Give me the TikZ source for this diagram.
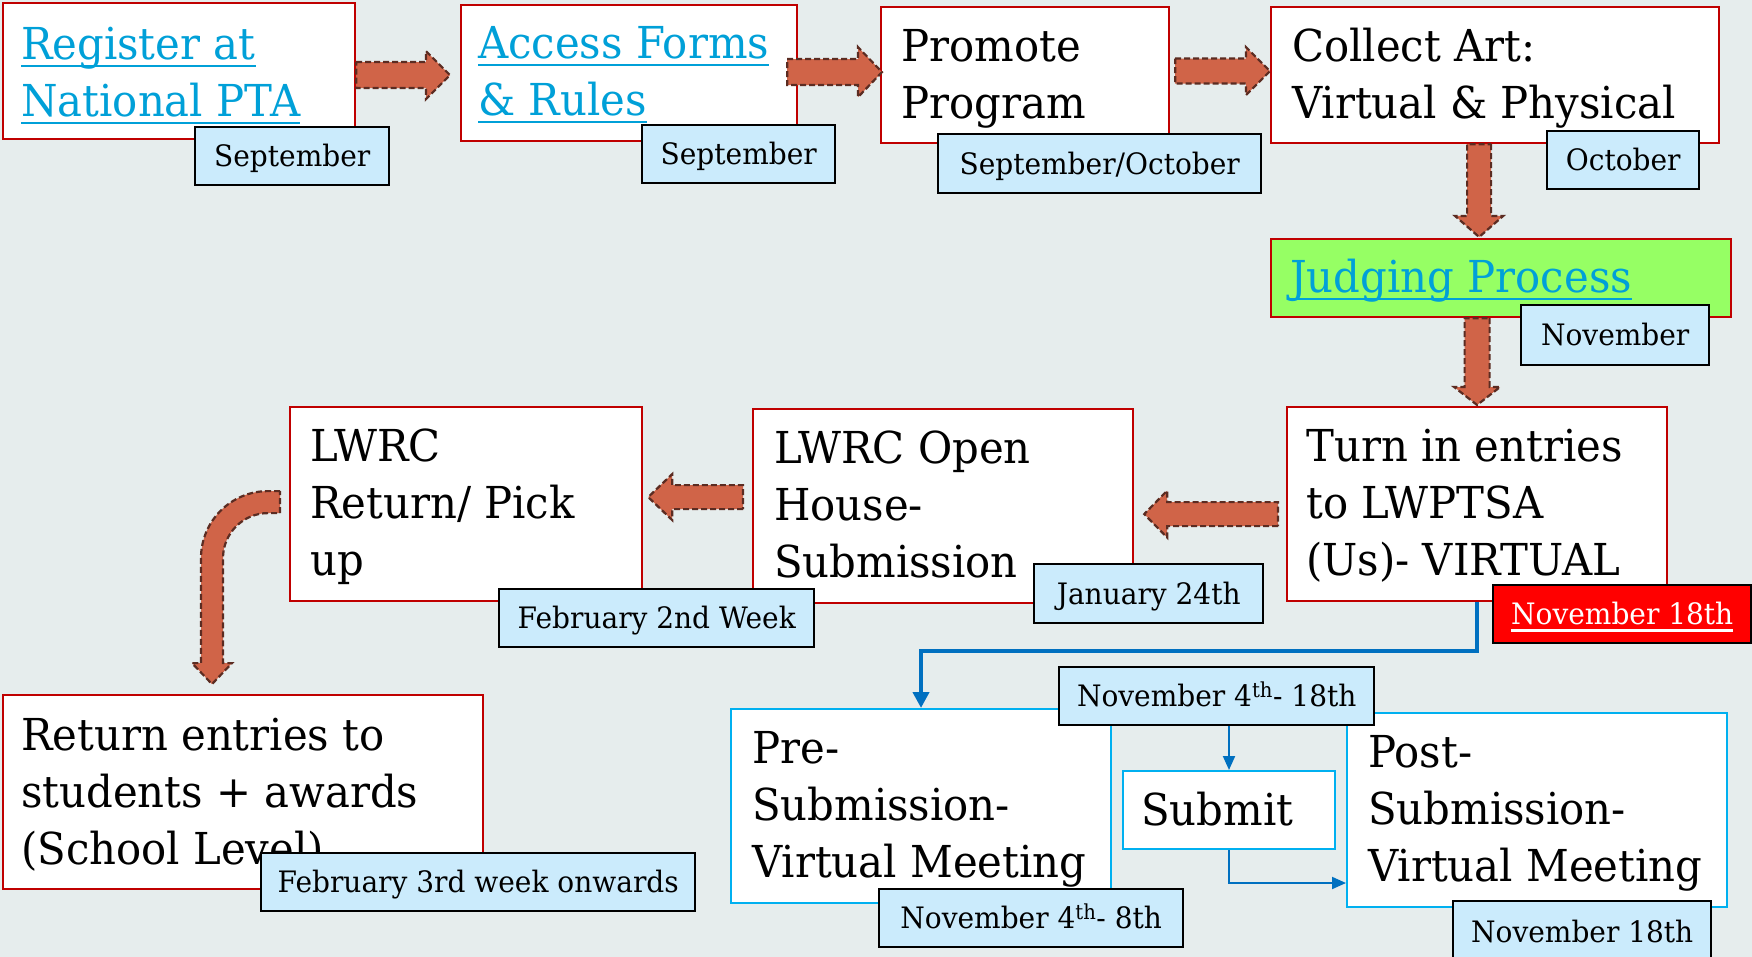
\documentclass[tikz,border=0pt]{standalone}
\usepackage{fontspec}
\setmainfont[FakeStretch=0.95]{DejaVu Serif}
\usetikzlibrary{calc,arrows.meta}
\definecolor{bgc}{HTML}{E6EDED}
\definecolor{boxred}{HTML}{C00000}
\definecolor{boxblue}{HTML}{00B0F0}
\definecolor{connblue}{HTML}{0070C0}
\definecolor{linkc}{HTML}{00A0D8}
\definecolor{lblc}{HTML}{CBEBFC}
\definecolor{greenc}{HTML}{96FF64}
\definecolor{arrfill}{HTML}{D06448}
\definecolor{arrline}{HTML}{5B2C22}
\newsavebox\lnkbox
\newcommand{\lnk}[1]{\sbox\lnkbox{#1}\rlap{\usebox\lnkbox}\rule[-7pt]{\wd\lnkbox}{2.4pt}}
\newcommand{\bigfont}{\fontsize{44}{57}\selectfont}
\newcommand{\lblfont}{\fontsize{29.5}{36}\selectfont}
\newcommand{\mlines}[1]{\begin{tabular}[t]{@{}l@{}}#1\end{tabular}}
\newcommand{\blockarrow}[5]{%
  \coordinate (bh) at ($(#2)!#5!(#1)$);
  \filldraw[blockarr] ($(#1)!#3!90:(#2)$) -- ($(bh)!#3!90:(#2)$) -- ($(bh)!#4!90:(#2)$) -- (#2)
    -- ($(bh)!#4!-90:(#2)$) -- ($(bh)!#3!-90:(#2)$) -- ($(#1)!#3!-90:(#2)$) -- cycle;}
\tikzset{
  redbox/.style={draw=boxred, line width=2.2pt, fill=white, rectangle, inner sep=0pt, anchor=north west},
  bluebox/.style={draw=boxblue, line width=2pt, fill=white, rectangle, inner sep=0pt, anchor=north west},
  datelbl/.style={draw=black, line width=2.4pt, fill=lblc, rectangle, inner sep=0pt, anchor=north west,
    font=\lblfont, text height=21pt, text depth=0pt},
  bigtxt/.style={anchor=base west, inner sep=0pt, font=\bigfont, text=black},
  blockarr/.style={fill=arrfill, draw=arrline, line width=2.2pt, dash pattern=on 6pt off 3pt, line join=miter},
  bluethick/.style={draw=connblue, line width=4pt, -{Triangle[width=16pt,length=16pt]}},
  bluethin/.style={draw=connblue, line width=2pt, -{Triangle[width=12pt,length=14pt]}},
}
\begin{document}
\begin{tikzpicture}[x=1pt,y=-1pt]
\useasboundingbox (0,0) rectangle (1752,957);
\fill[bgc] (0,0) rectangle (1752,957);

% process boxes
\node[redbox, minimum width=352pt, minimum height=136pt] (reg) at (2,2) {};
\node[redbox, minimum width=336pt, minimum height=136pt] (acc) at (460,4) {};
\node[redbox, minimum width=288pt, minimum height=136pt] (pro) at (880,6) {};
\node[redbox, minimum width=448pt, minimum height=136pt] (col) at (1270,6) {};
\node[redbox, fill=greenc, minimum width=460pt, minimum height=78pt] (jud) at (1270,238) {};
\node[redbox, minimum width=380pt, minimum height=194pt] (turn) at (1286,406) {};
\node[redbox, minimum width=380pt, minimum height=194pt] (open) at (752,408) {};
\node[redbox, minimum width=352pt, minimum height=194pt] (lwrc) at (289,406) {};
\node[redbox, minimum width=480pt, minimum height=194pt] (ret) at (2,694) {};
\node[bluebox, minimum width=380pt, minimum height=194pt] (pre) at (730,708) {};
\node[bluebox, minimum width=212pt, minimum height=78pt] (sub) at (1122,770) {};
\node[bluebox, minimum width=380pt, minimum height=194pt] (post) at (1346,712) {};

% texts
\node[bigtxt, text=linkc] (regT) at (21,60) {\mlines{\lnk{Register at}\\\lnk{National PTA}}};
\node[bigtxt, text=linkc] (accT) at (478,59) {\mlines{\lnk{Access Forms}\\\lnk{\& Rules}}};
\node[bigtxt] (proT) at (901,62) {\mlines{Promote\\Program}};
\node[bigtxt] (colT) at (1292,62) {\mlines{Collect Art:\\Virtual \& Physical}};
\node[bigtxt, text=linkc] (judT) at (1290,293) {\lnk{Judging Process}};
\node[bigtxt] (turnT) at (1306,461) {\mlines{Turn in entries\\to LWPTSA\\(Us)- VIRTUAL}};
\node[bigtxt] (openT) at (774,463) {\mlines{LWRC Open\\House-\\Submission}};
\node[bigtxt] (lwrcT) at (310,461) {\mlines{LWRC\\Return/ Pick\\up}};
\node[bigtxt] (retT) at (21,750) {\mlines{Return entries to\\students + awards\\(School Level)}};
\node[bigtxt] (preT) at (752,763) {\mlines{Pre-\\Submission-\\Virtual Meeting}};
\node[bigtxt] (subT) at (1141,825) {Submit};
\node[bigtxt] (postT) at (1368,767) {\mlines{Post-\\Submission-\\Virtual Meeting}};

% block arrows
\coordinate (a1s) at ([yshift=-4pt]reg.east);
\coordinate (a1t) at ([xshift=-10pt,yshift=-2pt]acc.west);
\blockarrow{a1s}{a1t}{13pt}{24pt}{24pt}
\coordinate (a2s) at ([xshift=-11pt,yshift=1pt]acc.east);
\coordinate (a2t) at ([xshift=2pt,yshift=3pt]pro.west);
\blockarrow{a2s}{a2t}{13pt}{25pt}{24pt}
\coordinate (a3s) at ([xshift=5pt,yshift=4pt]pro.east);
\coordinate (a3t) at ([yshift=4pt]col.west);
\blockarrow{a3s}{a3t}{12.5pt}{24pt}{24pt}
\coordinate (d1s) at ([xshift=-16pt]col.south);
\coordinate (d1t) at ([xshift=-22pt,yshift=1pt]jud.north);
\blockarrow{d1s}{d1t}{12pt}{24pt}{21pt}
\coordinate (d2s) at ([xshift=-24pt]jud.south);
\coordinate (d2t) at ([yshift=1pt]turn.north);
\blockarrow{d2s}{d2t}{12.5pt}{23pt}{18pt}
\coordinate (l2s) at ([xshift=-8pt,yshift=-10pt]turn.west);
\coordinate (l2t) at ([xshift=10pt,yshift=-8pt]open.east);
\blockarrow{l2s}{l2t}{12pt}{23.5pt}{23pt}
\coordinate (l1s) at ([xshift=-9pt,yshift=9pt]open.west);
\coordinate (l1t) at ([xshift=5pt,yshift=7pt]lwrc.east);
\blockarrow{l1s}{l1t}{12pt}{23pt}{24pt}
\coordinate (c1) at ([xshift=-9pt,yshift=2pt]lwrc.west);
\filldraw[blockarr] ([yshift=11pt]c1) -- ++(-12,0) arc[start angle=90,end angle=180,radius=67pt]
  -- ++(0,105) -- ++(-9,0) -- ++(20,21) -- ++(20,-21) -- ++(-9,0) -- ++(0,-105)
  arc[start angle=180,end angle=90,radius=45pt] -- ++(12,0) -- cycle;

% blue connectors
\draw[bluethick] (turn.south) -- ++(0,49) -| (pre.north);
\draw[bluethin] (sub.south) |- ([yshift=-73pt]post.west);

% date labels
\node[datelbl, minimum width=194pt, minimum height=58pt] (sep1) at (194,126) {September};
\node[datelbl, minimum width=193pt, minimum height=58pt] (sep2) at (641,124) {September};
\node[datelbl, minimum width=323pt, minimum height=59pt] (sepoct) at (937,133) {September/October};
\node[datelbl, minimum width=152pt, minimum height=58pt] (oct) at (1546,130) {October};
\node[datelbl, minimum width=188pt, minimum height=60pt] (nov) at (1520,304) {November};
\node[datelbl, fill=red, text=white, minimum width=258pt, minimum height=58pt] (nov18r) at (1492,584) {\lnk{November 18th}};
\node[datelbl, minimum width=229pt, minimum height=59pt] (jan) at (1033,563) {January 24th};
\node[datelbl, minimum width=315pt, minimum height=58pt] (feb2) at (498,588) {February 2nd Week};
\node[datelbl, minimum width=434pt, minimum height=58pt] (feb3) at (260,852) {February 3rd week onwards};
\node[datelbl, minimum width=315pt, minimum height=58pt] (n418) at (1058,666) {November 4\textsuperscript{th}- 18th};
\node[datelbl, minimum width=304pt, minimum height=58pt] (n48) at (878,888) {November 4\textsuperscript{th}- 8th};
\node[datelbl, minimum width=258pt, minimum height=62pt] (n18b) at (1452,900) {November 18th};

\draw[bluethin] (sub.north |- n418.south) -- (sub.north);
\end{tikzpicture}
\end{document}
